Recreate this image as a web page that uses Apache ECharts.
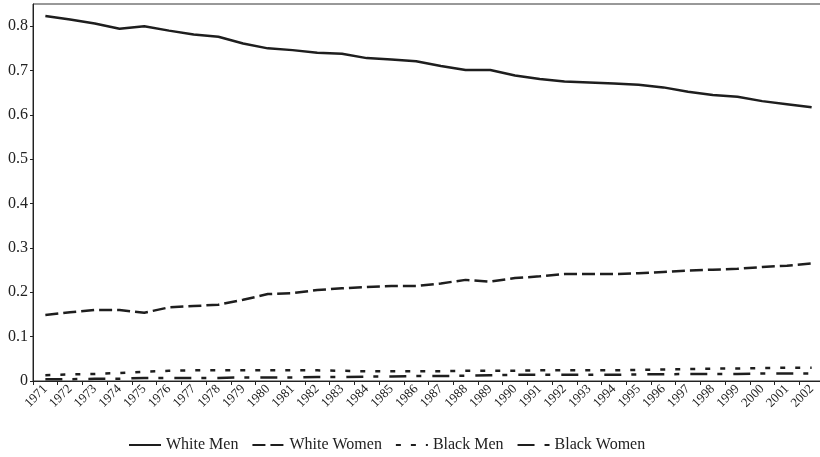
<!DOCTYPE html>
<html>
<head>
<meta charset="utf-8">
<script src="https://cdn.jsdelivr.net/npm/echarts@6/dist/echarts.min.js"></script>
<style>
  html, body { margin: 0; padding: 0; background: #fff; }
  #chart { width: 820px; height: 457px; }
</style>
</head>
<body>
<div id="chart"></div>
<script>
// years on the x axis
const years = []
for (let y = 1971; y <= 2002; y++) years.push(String(y))

// values
const whiteMen = [0.823, 0.815, 0.806, 0.794, 0.800, 0.790, 0.781, 0.776, 0.761, 0.750,
  0.746, 0.740, 0.738, 0.728, 0.725, 0.721, 0.710, 0.701, 0.701, 0.689,
  0.681, 0.675, 0.673, 0.671, 0.668, 0.662, 0.652, 0.645, 0.641, 0.631,
  0.624, 0.617]
const whiteWomen = [0.149, 0.155, 0.160, 0.160, 0.154, 0.166, 0.169, 0.172, 0.183, 0.196,
  0.198, 0.205, 0.209, 0.212, 0.214, 0.214, 0.220, 0.228, 0.224, 0.232,
  0.236, 0.241, 0.241, 0.241, 0.243, 0.246, 0.249, 0.251, 0.253, 0.257,
  0.260, 0.265]
const blackMen = [0.013, 0.015, 0.016, 0.018, 0.021, 0.023, 0.024, 0.024, 0.024, 0.024,
  0.024, 0.024, 0.023, 0.022, 0.022, 0.022, 0.022, 0.023, 0.023, 0.023,
  0.024, 0.024, 0.024, 0.024, 0.025, 0.026, 0.027, 0.028, 0.028, 0.029,
  0.030, 0.030]
const blackWomen = [0.004, 0.004, 0.005, 0.005, 0.007, 0.007, 0.007, 0.007, 0.008, 0.008,
  0.008, 0.009, 0.009, 0.010, 0.010, 0.011, 0.011, 0.012, 0.013, 0.014,
  0.014, 0.014, 0.014, 0.014, 0.015, 0.015, 0.016, 0.016, 0.016, 0.017,
  0.017, 0.017]

const ink = '#1e1e1e'
const font = '"Liberation Serif", "DejaVu Serif", serif'

const makeLine = (name, data, type, width) => ({
  name,
  type: 'line',
  data,
  symbol: 'none',
  smooth: false,
  itemStyle: { color: ink },
  lineStyle: { color: ink, width, type, cap: 'butt' }
})

const chart = echarts.init(document.getElementById('chart'))
chart.setOption({
  backgroundColor: '#fff',
  animation: false,
  grid: {
    left: 33,
    top: 4,
    width: 791,
    height: 377,
    outerBoundsMode: 'none',
    containLabel: false,
    show: true,
    borderColor: '#333',
    borderWidth: 1
  },
  legend: {
    left: 123,
    top: 432,
    itemWidth: 32,
    itemHeight: 3,
    itemGap: 13,
    itemStyle: { opacity: 0 },
    textStyle: { fontFamily: font, fontSize: 16, color: '#222' },
    data: ['White Men', 'White Women', 'Black Men', 'Black Women']
  },
  xAxis: {
    type: 'category',
    data: years,
    boundaryGap: true,
    axisLine: { lineStyle: { color: '#222', width: 1 } },
    axisTick: { show: true, interval: 0, length: 4, lineStyle: { color: '#222' } },
    axisLabel: {
      interval: 0,
      rotate: 45,
      margin: 6,
      fontFamily: font,
      fontSize: 13,
      color: '#222'
    },
    splitLine: { show: false }
  },
  yAxis: {
    type: 'value',
    min: 0,
    max: 0.85,
    interval: 0.1,
    axisLine: { show: true, lineStyle: { color: '#222', width: 1 } },
    axisTick: { show: true, length: 3, lineStyle: { color: '#222' } },
    axisLabel: {
      showMaxLabel: false,
      margin: 5,
      fontFamily: font,
      fontSize: 16,
      color: '#222',
      formatter: v => (v === 0 ? '0' : v.toFixed(1))
    },
    splitLine: { show: false }
  },
  series: [
    makeLine('White Men', whiteMen, 'solid', 2.5),
    makeLine('White Women', whiteWomen, [13, 5], 2.5),
    makeLine('Black Men', blackMen, [5, 10], 2.5),
    makeLine('Black Women', blackWomen, [17, 10, 5, 11], 2.5)
  ]
})
</script>
</body>
</html>
